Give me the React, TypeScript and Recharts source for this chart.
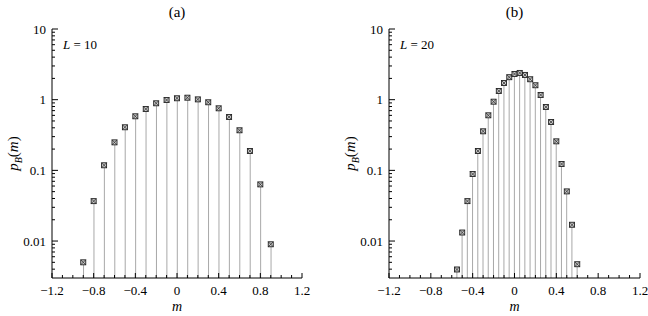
import React from 'react';
import { ComposedChart, Bar, Scatter, XAxis, YAxis } from 'recharts';

// m values and p_B(m)
const mL10 = [-0.9, -0.8, -0.7, -0.6, -0.5, -0.4, -0.3, -0.2, -0.1, 0, 0.1, 0.2, 0.3, 0.4, 0.5, 0.6, 0.7, 0.8, 0.9];
const pL10 = [0.005, 0.0367, 0.118, 0.249, 0.407, 0.582, 0.738, 0.889, 0.99, 1.047, 1.067, 1.01, 0.919, 0.755, 0.569, 0.369, 0.188, 0.0633, 0.009];

const mL20 = [
  -0.55, -0.5, -0.45, -0.4, -0.35, -0.3, -0.25, -0.2, -0.15, -0.1, -0.05, 0,
  0.05, 0.1, 0.15, 0.2, 0.25, 0.3, 0.35, 0.4, 0.45, 0.5, 0.55, 0.6,
];
const pL20 = [
  0.00396, 0.0132, 0.0367, 0.0887, 0.188, 0.357, 0.601, 0.937, 1.328, 1.72, 2.08, 2.31,
  2.39, 2.24, 1.945, 1.6, 1.166, 0.788, 0.483, 0.2575, 0.123, 0.0504, 0.017, 0.0047,
];

const xTicks = [
  -1.2, -1.1, -1.0, -0.9, -0.8, -0.7, -0.6, -0.5, -0.4, -0.3, -0.2, -0.1, 0,
  0.1, 0.2, 0.3, 0.4, 0.5, 0.6, 0.7, 0.8, 0.9, 1.0, 1.1, 1.2,
];
const xLabeled = [-1.2, -0.8, -0.4, 0, 0.4, 0.8, 1.2];
const xLabelText = ['\u22121.2', '\u22120.8', '\u22120.4', '0', '0.4', '0.8', '1.2'];

const yTicks = [
  0.004, 0.005, 0.006, 0.007, 0.008, 0.009,
  0.01, 0.02, 0.03, 0.04, 0.05, 0.06, 0.07, 0.08, 0.09,
  0.1, 0.2, 0.3, 0.4, 0.5, 0.6, 0.7, 0.8, 0.9,
  1, 2, 3, 4, 5, 6, 7, 8, 9, 10,
];
const yLabeled = [0.01, 0.1, 1, 10];
const yLabelText = ['0.01', '0.1', '1', '10'];

const FONT = "'Liberation Serif', 'Times New Roman', Times, serif";
const STEM = '#a8a8a8';

const near = (a: number, b: number) => Math.abs(a - b) < 1e-9;
const xLabelOf = (v: number) => {
  const i = xLabeled.findIndex((t) => near(t, v));
  return i >= 0 ? xLabelText[i] : null;
};
const yLabelOf = (v: number) => {
  const i = yLabeled.findIndex((t) => near(t, v));
  return i >= 0 ? yLabelText[i] : null;
};

const BottomTick = ({ x, y, payload }: any) => {
  const label = xLabelOf(payload.value);
  return (
    <g>
      <line x1={x} y1={y} x2={x} y2={y - (label ? 5 : 3)} stroke="#000" strokeWidth={1} />
      {label && (
        <text x={x} y={y + 17} textAnchor="middle" style={{ fontFamily: FONT, fontSize: 13 }} fill="#000">
          {label}
        </text>
      )}
    </g>
  );
};

const TopTick = ({ x, y, payload }: any) => {
  const label = xLabelOf(payload.value);
  return <line x1={x} y1={y} x2={x} y2={y + (label ? 5 : 3)} stroke="#000" strokeWidth={1} />;
};

const LeftTick = ({ x, y, payload }: any) => {
  const label = yLabelOf(payload.value);
  return (
    <g>
      <line x1={x} y1={y} x2={x + (label ? 6 : 3)} y2={y} stroke="#000" strokeWidth={1} />
      {label && (
        <text x={x - 6} y={y + 4.5} textAnchor="end" style={{ fontFamily: FONT, fontSize: 13 }} fill="#000">
          {label}
        </text>
      )}
    </g>
  );
};

const RightTick = ({ x, y, payload }: any) => {
  const label = yLabelOf(payload.value);
  return <line x1={x} y1={y} x2={x - (label ? 6 : 3)} y2={y} stroke="#000" strokeWidth={1} />;
};

const Marker = ({ cx, cy }: any) => {
  const s = 2.5;
  return (
    <g>
      <rect x={cx - s} y={cy - s} width={2 * s} height={2 * s} fill="#c8c8c8" stroke="#222" strokeWidth={0.9} />
      <line x1={cx - s} y1={cy - s} x2={cx + s} y2={cy + s} stroke="#222" strokeWidth={0.7} />
      <line x1={cx - s} y1={cy + s} x2={cx + s} y2={cy - s} stroke="#222" strokeWidth={0.7} />
    </g>
  );
};

const YTitle = ({ viewBox }: any) => {
  const cx = viewBox.x + viewBox.width - 34;
  const cy = viewBox.y + viewBox.height / 2;
  return (
    <text
      x={cx}
      y={cy}
      transform={`rotate(-90 ${cx} ${cy})`}
      textAnchor="middle"
      style={{ fontFamily: FONT, fontSize: 15 }}
      fill="#000"
    >
      <tspan fontStyle="italic">p</tspan>
      <tspan fontStyle="italic" fontSize={10} dy={4}>B</tspan>
      <tspan dy={-4}>(</tspan>
      <tspan fontStyle="italic">m</tspan>
      <tspan>)</tspan>
    </text>
  );
};

const XTitle = ({ viewBox }: any) => (
  <text
    x={viewBox.x + viewBox.width / 2}
    y={viewBox.y + 33}
    textAnchor="middle"
    style={{ fontFamily: FONT, fontSize: 14, fontStyle: 'italic' }}
    fill="#000"
  >
    m
  </text>
);

type PanelProps = {
  ms: number[];
  ps: number[];
  left: number;
  yAxisWidth: number;
  rightMargin: number;
  tag: string;
  size: string;
};

function Panel({ ms, ps, left, yAxisWidth, rightMargin, tag, size }: PanelProps) {
  const data = ms.map((m, i) => ({ m, p: ps[i] }));
  const width = 324;
  const plotLeft = yAxisWidth;
  const plotRight = width - rightMargin;
  return (
    <div style={{ position: 'absolute', left, top: 0, width, height: 316 }}>
      <ComposedChart width={width} height={316} data={data} margin={{ top: 29, right: rightMargin, bottom: 0, left: 0 }}>
        <XAxis
          dataKey="m"
          type="number"
          domain={[-1.2, 1.2]}
          ticks={xTicks}
          interval={0}
          height={38}
          tickSize={0}
          tickMargin={0}
          axisLine={{ stroke: '#000' }}
          tickLine={false}
          tick={<BottomTick />}
          label={<XTitle />}
        />
        <XAxis
          xAxisId="top"
          orientation="top"
          dataKey="m"
          type="number"
          domain={[-1.2, 1.2]}
          ticks={xTicks}
          interval={0}
          height={0}
          tickSize={0}
          tickMargin={0}
          axisLine={{ stroke: '#000' }}
          tickLine={false}
          tick={<TopTick />}
        />
        <YAxis
          type="number"
          scale="log"
          domain={[0.003, 10]}
          allowDataOverflow
          ticks={yTicks}
          interval={0}
          width={yAxisWidth}
          tickSize={0}
          tickMargin={0}
          axisLine={{ stroke: '#000' }}
          tickLine={false}
          tick={<LeftTick />}
          label={<YTitle />}
        />
        <YAxis
          yAxisId="right"
          orientation="right"
          type="number"
          scale="log"
          domain={[0.003, 10]}
          allowDataOverflow
          ticks={yTicks}
          interval={0}
          width={0}
          tickSize={0}
          tickMargin={0}
          axisLine={{ stroke: '#000' }}
          tickLine={false}
          tick={<RightTick />}
        />
        <Bar dataKey="p" barSize={1} fill={STEM} isAnimationActive={false} />
        <Scatter dataKey="p" shape={<Marker />} isAnimationActive={false} />
      </ComposedChart>
      <div
        style={{
          position: 'absolute',
          left: plotLeft,
          width: plotRight - plotLeft,
          top: 3,
          textAlign: 'center',
          fontFamily: FONT,
          fontSize: 15,
          lineHeight: '18px',
        }}
      >
        {tag}
      </div>
      <div
        style={{
          position: 'absolute',
          left: plotLeft + 11,
          top: 37,
          fontFamily: FONT,
          fontSize: 13,
          lineHeight: '16px',
          whiteSpace: 'nowrap',
        }}
      >
        <i>L</i> = {size}
      </div>
    </div>
  );
}

export default function App() {
  return (
    <div style={{ position: 'absolute', left: 0, top: 0, width: 648, height: 316, background: '#fff' }}>
      <Panel ms={mL10} ps={pL10} left={0} yAxisWidth={52} rightMargin={22} tag="(a)" size="10" />
      <Panel ms={mL20} ps={pL20} left={324} yAxisWidth={65} rightMargin={8} tag="(b)" size="20" />
    </div>
  );
}
